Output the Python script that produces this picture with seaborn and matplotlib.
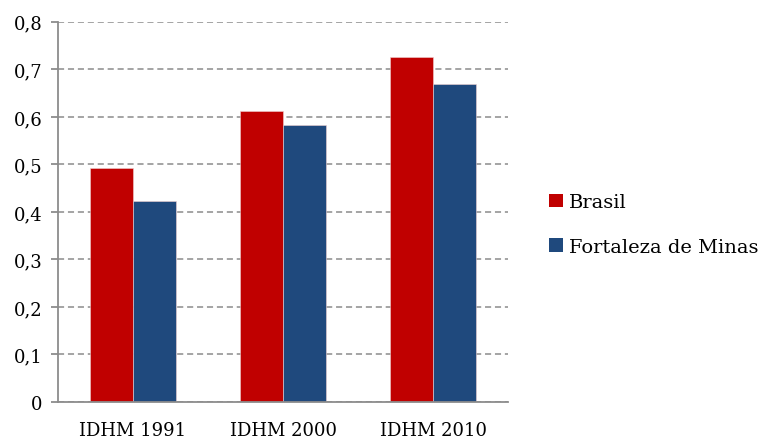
import matplotlib
matplotlib.use("Agg")
import matplotlib.pyplot as plt
import seaborn as sns
import pandas as pd
from matplotlib.ticker import FuncFormatter, FixedLocator
from matplotlib.patches import Patch

categories = ["IDHM 1991", "IDHM 2000", "IDHM 2010"]
series_names = ["Brasil", "Fortaleza de Minas"]
brasil = [0.493, 0.612, 0.727]
fortaleza = [0.422, 0.582, 0.670]
yticks = [0, 0.1, 0.2, 0.3, 0.4, 0.5, 0.6, 0.7, 0.8]
colors = ["#C00000", "#1F497D"]

df = pd.DataFrame({
    "cat": categories * 2,
    "serie": [series_names[0]] * 3 + [series_names[1]] * 3,
    "val": brasil + fortaleza,
})

sns.set_style("white")
plt.rcParams["font.family"] = ["DejaVu Serif"]
plt.rcParams["text.color"] = "black"
plt.rcParams["xtick.color"] = "black"
plt.rcParams["ytick.color"] = "black"

fig = plt.figure(figsize=(7.63, 4.39), dpi=100)
ax = fig.add_axes([0.076, 0.082, 0.59, 0.866])

sns.barplot(data=df, x="cat", y="val", hue="serie", palette=colors,
            width=0.573, ax=ax, legend=False, edgecolor="#f0d0d0", linewidth=0.4,
            saturation=1)

ax.set_xlim(-0.5, 2.5)
ax.set_ylim(0, 0.8)
ax.set_yticks(yticks)
ax.yaxis.set_major_formatter(FuncFormatter(lambda v, p: "0" if v == 0 else f"{v:.1f}".replace(".", ",")))
ax.set_xlabel("")
ax.set_ylabel("")
ax.grid(axis="y", linestyle=(0, (4, 2.5)), color="#8c8c8c", linewidth=1.1)
ax.set_axisbelow(True)

for s in ["top", "right"]:
    ax.spines[s].set_visible(False)
for s in ["left", "bottom"]:
    ax.spines[s].set_color("#8c8c8c")
    ax.spines[s].set_linewidth(1.3)

ax.xaxis.set_minor_locator(FixedLocator([-0.5, 0.5, 1.5, 2.5]))
ax.tick_params(axis="x", which="major", length=0, pad=14, labelsize=13, labelcolor="black")
ax.tick_params(axis="x", which="minor", length=5, width=1.3, color="#8c8c8c", direction="out")
ax.tick_params(axis="y", which="major", length=5, width=1.3, color="#8c8c8c", direction="out",
               labelsize=13, pad=6, left=True, labelcolor="black")

handles = [Patch(facecolor=c, edgecolor="none") for c in colors]
fig.legend(handles, series_names, loc="center left", bbox_to_anchor=(0.697, 0.486),
           frameon=False, fontsize=14, handlelength=0.7, handleheight=0.7,
           handletextpad=0.33, labelspacing=1.38, labelcolor="black")

fig.savefig("out.png", dpi=100)
